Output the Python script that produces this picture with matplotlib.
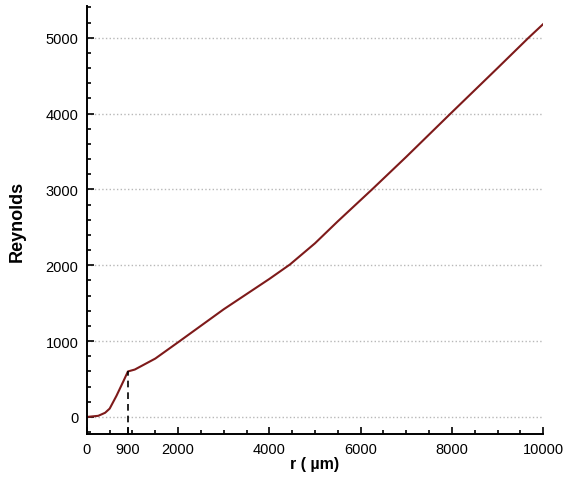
import matplotlib.pyplot as plt
from matplotlib.ticker import MultipleLocator, FixedLocator

plt.rcParams['font.family'] = ['Liberation Sans', 'DejaVu Sans']

# Reynolds number vs radius
r_um = [0, 250, 400, 500, 650, 800, 900, 1050, 1500, 2000, 3000, 4000,
        4450, 5000, 5500, 6250, 7000, 7970, 9000, 9680, 10000]
reynolds = [0, 15, 55, 110, 280, 470, 600, 625, 770, 985, 1420, 1820,
            2010, 2290, 2580, 3000, 3430, 4000, 4600, 5000, 5180]

x_ticks = [0, 900, 2000, 4000, 6000, 8000, 10000]
y_ticks = [0, 1000, 2000, 3000, 4000, 5000]
r_mark = 900

fig = plt.figure(figsize=(5.64, 4.81), dpi=100)
ax = fig.add_axes([0.154, 0.0956, 0.809, 0.89])

ax.plot(r_um, reynolds, color='#7e1a1a', lw=1.5)
ax.plot([r_mark, r_mark], [-225, reynolds[r_um.index(r_mark)]],
        color='black', ls=(0, (4, 3)), lw=1.2)

ax.set_xlim(0, 10000)
ax.set_ylim(-225, 5420)

ax.xaxis.set_major_locator(FixedLocator(x_ticks))
ax.xaxis.set_minor_locator(MultipleLocator(500))
ax.yaxis.set_major_locator(FixedLocator(y_ticks))
ax.yaxis.set_minor_locator(MultipleLocator(200))
ax.tick_params(which='major', direction='in', length=5, width=1.2,
               labelsize=10.5, pad=6)
ax.tick_params(which='minor', direction='in', length=3, width=1.2)

ax.grid(axis='y', which='major', ls=':', color='#b8b8b8', lw=1)
for s in ['top', 'right']:
    ax.spines[s].set_visible(False)
for s in ['left', 'bottom']:
    ax.spines[s].set_linewidth(1.4)

ax.set_xlabel('r ( µm)', fontsize=11.5, fontweight='bold', labelpad=0)
ax.set_ylabel('Reynolds', fontsize=13, fontweight='bold', labelpad=14)

fig.savefig('out.png', dpi=100)
